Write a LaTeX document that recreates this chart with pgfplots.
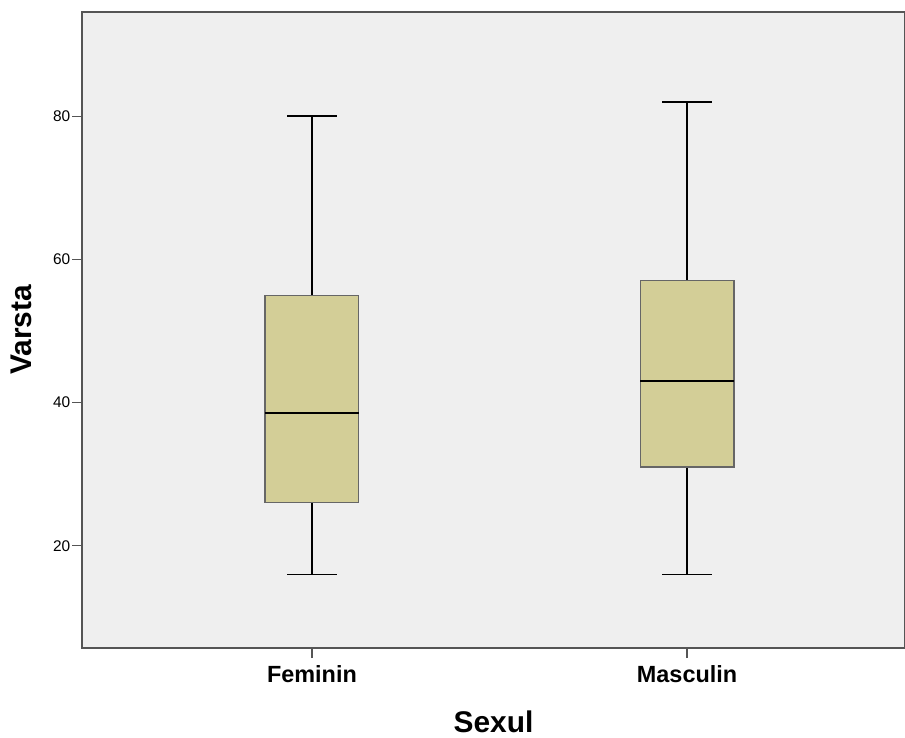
\documentclass[border=0pt]{standalone}
\usepackage{pgfplots}
\pgfplotsset{compat=1.18}
\usepackage{fontspec}
\setmainfont{Liberation Sans}
\definecolor{bgc}{HTML}{EFEFEF}
\definecolor{boxc}{HTML}{D3CE97}
\definecolor{axc}{HTML}{555555}
\definecolor{boxl}{HTML}{666666}
\begin{document}
\begin{tikzpicture}
\begin{axis}[
  scale only axis,
  width=823bp, height=636bp,
  xmin=0.387, xmax=2.581,
  ymin=5.73, ymax=94.55,
  axis background/.style={fill=bgc},
  axis line style={axc, line width=1.6bp},
  xtick={1,2}, xticklabels={Feminin,Masculin},
  ytick={20,40,60,80},
  tick align=outside,
  major tick length=10bp,
  tick style={axc, line width=1.2bp},
  xtick pos=bottom, ytick pos=left,
  xticklabel style={font=\fontsize{23.5}{28}\selectfont\bfseries, anchor=center, yshift=-16bp},
  yticklabel style={font=\fontsize{15.5}{17}\selectfont, inner sep=1.5bp},
  /pgf/number format/assume math mode=true,
  xlabel={Sexul}, ylabel={Varsta},
  every axis x label/.style={at={(rel axis cs:0.5,0)}, anchor=center, yshift=-74bp,
    font=\fontsize{30}{36}\selectfont\bfseries},
  every axis y label/.style={at={(rel axis cs:0,0.5)}, anchor=center, rotate=90, yshift=61bp,
    font=\fontsize{30}{36}\selectfont\bfseries},
  unbounded coords=jump,
]
% Feminin: min 16, Q1 26, median 38.5, Q3 55, max 80
\addplot[black, line width=1.8bp] coordinates {(1,55) (1,80) (nan,nan) (0.9335,80) (1.0665,80)
  (nan,nan) (1,26) (1,16) (nan,nan) (0.9335,16) (1.0665,16)};
\addplot[draw=boxl, line width=1.2bp, fill=boxc] coordinates {(0.875,26) (1.125,26) (1.125,55) (0.875,55) (0.875,26)};
\addplot[black, line width=2.2bp] coordinates {(0.875,38.5) (1.125,38.5)};
% Masculin: min 16, Q1 31, median 43, Q3 57, max 82
\addplot[black, line width=1.8bp] coordinates {(2,57) (2,82) (nan,nan) (1.9335,82) (2.0665,82)
  (nan,nan) (2,31) (2,16) (nan,nan) (1.9335,16) (2.0665,16)};
\addplot[draw=boxl, line width=1.2bp, fill=boxc] coordinates {(1.875,31) (2.125,31) (2.125,57) (1.875,57) (1.875,31)};
\addplot[black, line width=2.2bp] coordinates {(1.875,43) (2.125,43)};
\coordinate (ll) at (rel axis cs:0,0);
\coordinate (ur) at (rel axis cs:1,1);
\end{axis}
\pgfresetboundingbox
\path[use as bounding box] (ll) ++(-82bp,-90bp) rectangle ([yshift=12bp]ur);
\end{tikzpicture}
\end{document}
